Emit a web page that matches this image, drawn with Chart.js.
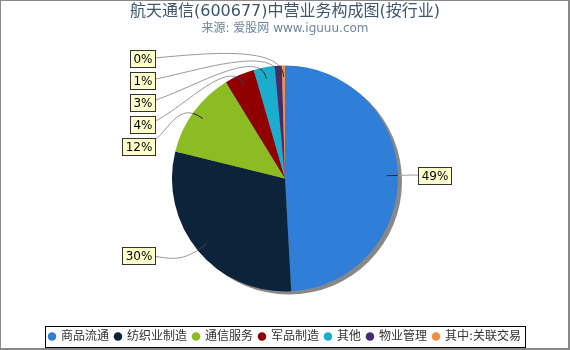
<!DOCTYPE html>
<html>
<head>
<meta charset="utf-8">
<script src="https://cdn.jsdelivr.net/npm/chart.js@4.4.1/dist/chart.umd.min.js"></script>
<style>
  html, body { margin: 0; padding: 0; background: #fff; }
  canvas { display: block; }
</style>
</head>
<body>
<canvas id="pieChart" width="570" height="350"></canvas>
<script>
const chartTitle = '航天通信(600677)中营业务构成图(按行业)';
const chartSubtitle = '来源: 爱股网 www.iguuu.com';
const categories = ['商品流通', '纺织业制造', '通信服务', '军品制造', '其他', '物业管理', '其中:关联交易'];
const shares = [49.1, 29.7, 12.4, 4.3, 3.0, 1.0, 0.45];
const sliceColors = ['#2f7ed8', '#0d233a', '#8bbc21', '#910000', '#1aadce', '#492970', '#f28f43'];

const fontFamily = '"DejaVu Sans", "Noto Sans CJK SC", sans-serif';

// white page + grey shadow under the pie
const shadowPlugin = {
    id: 'pieShadow',
    beforeDraw(chart) {
        const ctx = chart.ctx;
        ctx.save();
        ctx.fillStyle = '#fff';
        ctx.fillRect(0, 0, chart.width, chart.height);
        ctx.restore();
    },
    beforeDatasetsDraw(chart) {
        const arc = chart.getDatasetMeta(0).data[0];
        if (!arc) return;
        const ctx = chart.ctx;
        ctx.save();
        ctx.fillStyle = '#888';
        ctx.beginPath();
        ctx.arc(arc.x + 4, arc.y + 3, arc.outerRadius, 0, Math.PI * 2);
        ctx.fill();
        ctx.restore();
    }
};

// percentage boxes with curved leader lines
const calloutPlugin = {
    id: 'callouts',
    afterDatasetsDraw(chart) {
        const ctx = chart.ctx;
        const arcs = chart.getDatasetMeta(0).data;
        const total = shares.reduce((a, b) => a + b, 0);
        const cx = arcs[0].x, cy = arcs[0].y, r = arcs[0].outerRadius;
        ctx.save();
        ctx.font = '12px ' + fontFamily;

        let items = arcs.map((arc, i) => {
            const mid = (arc.startAngle + arc.endAngle) / 2;
            const dx = Math.cos(mid), dy = Math.sin(mid);
            const text = Math.round(shares[i] / total * 100) + '%';
            return {
                mid: mid, dx: dx, dy: dy, text: text,
                w: ctx.measureText(text).width + 6, h: 17,
                ax: cx + dx * r * 0.9, ay: cy + dy * r * 0.9,
                y: cy + dy * (r + 7), right: dx >= 0
            };
        });

        // stack the left-hand labels from the top down
        let left = items.filter(it => !it.right).sort((a, b) => b.mid - a.mid);
        let prev = -Infinity;
        left.forEach(it => {
            it.y = Math.max(it.y, prev + 22);
            prev = it.y;
        });
        items.forEach(it => {
            it.x = it.right ? cx + r + 20 : cx - r - 17 - it.w;
            it.px = it.x + it.w / 2;
        });

        const curve = (it) => {
            const dir = it.right ? -1 : 1;
            ctx.beginPath();
            ctx.moveTo(it.px, it.y);
            ctx.bezierCurveTo(it.px + dir * 28, it.y,
                it.ax + it.dx * 38, it.ay + it.dy * 38,
                it.ax, it.ay);
            ctx.stroke();
        };

        ctx.lineWidth = 1;
        ctx.strokeStyle = '#999';
        items.forEach(curve);
        ctx.save();
        ctx.beginPath();
        ctx.arc(cx, cy, r, 0, Math.PI * 2);
        ctx.clip();
        ctx.strokeStyle = 'rgba(0,0,0,0.75)';
        items.forEach(curve);
        ctx.restore();

        ctx.textAlign = 'center';
        ctx.textBaseline = 'middle';
        items.forEach(it => {
            const bx = Math.round(it.x) + 0.5, by = Math.round(it.y - it.h / 2) + 0.5;
            ctx.fillStyle = '#ffffcc';
            ctx.fillRect(bx, by, Math.round(it.w), it.h);
            ctx.strokeStyle = '#333';
            ctx.strokeRect(bx, by, Math.round(it.w), it.h);
            ctx.fillStyle = '#000';
            ctx.fillText(it.text, bx + Math.round(it.w) / 2, by + it.h / 2 + 0.5);
        });
        ctx.restore();
    }
};

// legend frame and outer border
const framePlugin = {
    id: 'frame',
    afterDraw(chart) {
        const ctx = chart.ctx;
        const boxes = chart.legend.legendHitBoxes;
        ctx.save();
        if (boxes && boxes.length) {
            const l = Math.min(...boxes.map(b => b.left)) - 4;
            const rr = Math.max(...boxes.map(b => b.left + b.width)) + 4;
            const mid = boxes[0].top + boxes[0].height / 2;
            ctx.strokeStyle = '#000';
            ctx.lineWidth = 1;
            ctx.strokeRect(Math.round(l) + 0.5, Math.round(mid - 10.5) + 0.5, Math.round(rr - l), 21);
        }
        ctx.fillStyle = '#888';
        ctx.fillRect(0, 0, chart.width, 1);
        ctx.fillRect(0, 0, 1, chart.height);
        ctx.fillRect(chart.width - 2, 0, 2, chart.height);
        ctx.fillRect(0, chart.height - 2, chart.width, 2);
        ctx.restore();
    }
};

new Chart(document.getElementById('pieChart'), {
    type: 'pie',
    data: {
        labels: categories,
        datasets: [{
            data: shares,
            backgroundColor: sliceColors,
            borderWidth: 0
        }]
    },
    options: {
        responsive: false,
        animation: false,
        radius: 113,
        layout: { padding: { top: 0, bottom: 1.5, left: 0, right: 0 } },
        plugins: {
            title: {
                display: true,
                text: chartTitle,
                color: '#3E576F',
                font: { family: fontFamily, size: 16, weight: 'normal', lineHeight: 1 },
                padding: { top: 4, bottom: 0 }
            },
            subtitle: {
                display: true,
                text: chartSubtitle,
                color: '#6D869F',
                font: { family: fontFamily, size: 12, weight: 'normal', lineHeight: 1 },
                padding: { top: 3, bottom: -2.5 }
            },
            legend: {
                position: 'bottom',
                maxHeight: 24,
                labels: {
                    usePointStyle: true,
                    pointStyle: 'circle',
                    boxWidth: 6,
                    boxHeight: 6,
                    padding: 6,
                    color: '#333',
                    font: { family: fontFamily, size: 12 }
                }
            },
            tooltip: { enabled: false }
        }
    },
    plugins: [shadowPlugin, calloutPlugin, framePlugin]
});
</script>
</body>
</html>
